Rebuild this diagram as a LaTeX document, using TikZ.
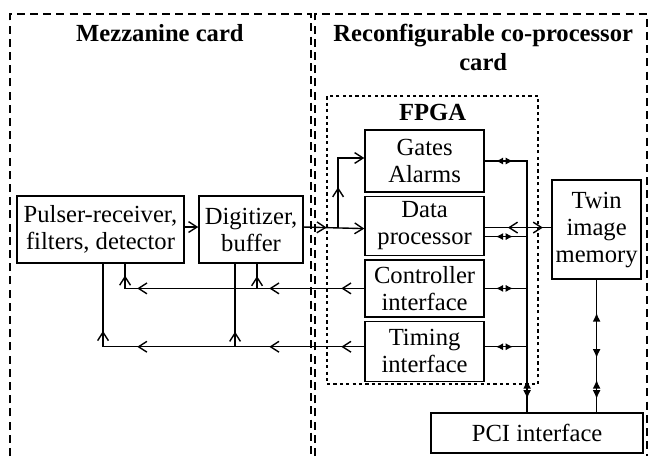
\documentclass[tikz,border=0pt]{standalone}
\usepackage{fontspec}
\setmainfont{Liberation Serif}
\usepackage{tikz}
\usetikzlibrary{arrows.meta,decorations.markings,positioning}

\begin{document}
\begin{tikzpicture}[blk/.style={draw,line width=.8pt,align=center,inner sep=1pt,font=\fontsize{12.3}{13.5}\selectfont},
  ttl/.style={align=center,font=\bfseries\fontsize{12.3}{14.5}\selectfont},
  card/.style={line width=.8pt,dash pattern=on 4pt off 2.6pt},
  chip/.style={draw,line width=.8pt,dash pattern=on 1.6pt off 1.6pt},
  wire/.style={line width=.7pt},
  >={Straight Barb[length=4.2pt,width=5.4pt]},
  headat/.style={postaction={decorate,decoration={markings,mark=at position #1 with {\arrow{>}}}}},
  headback/.style={postaction={decorate,decoration={markings,mark=at position #1 with {\arrowreversed{>}}}}},
  fillat/.style={postaction={decorate,decoration={markings,mark=at position #1 with {\arrow{Latex[length=4.4pt,width=4pt]}}}}},
  fillback/.style={postaction={decorate,decoration={markings,mark=at position #1 with {\arrowreversed{Latex[length=4.4pt,width=4pt]}}}}},
  smat/.style={postaction={decorate,decoration={markings,mark=at position #1 with {\arrow{Latex[length=3.6pt,width=3.6pt]}}}}},
  smback/.style={postaction={decorate,decoration={markings,mark=at position #1 with {\arrowreversed{Latex[length=3.6pt,width=3.6pt]}}}}},
  node distance=.05cm]
  \useasboundingbox (0,0) rectangle (11.42,8.013);

  % the two cards
  \draw[card] (0.176,0) -- (0.176,7.767) -- (5.465,7.767) -- (5.465,0);
  \draw[card] (5.535,0) -- (5.535,7.767) -- (11.37,7.767) -- (11.37,0);
  \node[ttl] (mezz) at (2.81,7.43) {Mezzanine card};
  \node[ttl] (reco) at (8.49,7.18) {Reconfigurable co-processor\\card};

  \node[blk,minimum width=2.935cm,minimum height=1.177cm] (pulser) at (1.766,3.98) {Pulser-receiver,\\filters, detector};
  \node[blk,minimum width=1.828cm,minimum height=1.177cm] (digit) at (4.411,3.98) {Digitizer,\\buffer};

  % FPGA
  \node[chip,minimum width=3.708cm,minimum height=5.061cm] (fpga) at (7.6,3.7955) {};
  \node[ttl] (fpgalbl) at (7.6,6.03) {FPGA};
  \node[blk,minimum width=2.091cm,minimum height=1.09cm] (gates) at (7.46,5.184) {Gates\\Alarms};
  \node[blk,minimum width=2.091cm,minimum height=1.037cm,below=of gates] (data) {Data\\processor};
  \node[blk,minimum width=2.091cm,minimum height=1cm,below=of data] (ctrl) {Controller\\interface};
  \node[blk,minimum width=2.091cm,minimum height=1.054cm,below=of ctrl] (timing) {Timing\\interface};

  \node[blk,minimum width=1.564cm,minimum height=1.74cm] (twin) at (10.482,3.98) {Twin\\image\\memory};
  \node[blk,minimum width=3.725cm,minimum height=.703cm] (pci) at (9.437,.404) {PCI interface};

  \coordinate (split) at (5.94,4.024);
  \coordinate (bus) at ([xshift=-.176cm]pci.north);
  \coordinate (ctap) at ([xshift=.105cm]digit.south);
  \coordinate (ttap) at ([xshift=-.281cm]digit.south);
  \coordinate (tline) at ([yshift=.08cm]timing.west);
  \coordinate (tright) at ([yshift=.08cm]timing.east);
  \coordinate (dup) at ([yshift=-.028cm]data.east);
  \coordinate (dlow) at ([yshift=-.186cm]data.east);

  % signal path
  \draw[wire,->] ([yshift=.044cm]pulser.east) -- ([yshift=.044cm]digit.west);
  \draw[wire,->,headat=.4cm] ([yshift=.044cm]digit.east) -- ([yshift=-.046cm]data.west);
  \draw[wire,->,headat=.7cm] (split) |- ([yshift=.053cm]gates.west);

  % control and timing back to the mezzanine
  \draw[wire,headat=.404cm,headat=1.669cm,headat=3.989cm,headat=4.43cm] (ctrl.west) -| ([xshift=.431cm]pulser.south);
  \draw[wire,headat=.5] (ctap |- ctrl.west) -- (ctap);
  \draw[wire,headat=.404cm,headat=1.669cm,headat=3.989cm,headat=4.868cm] (tline) -| ([xshift=.044cm]pulser.south);
  \draw[wire,headat=.264cm] (ttap |- tline) -- (ttap);

  % bus to PCI
  \draw[wire,smback=.193cm,smat=.492cm,fillback=4.587cm,fillat=4.92cm] (gates.east) -| (bus);
  \draw[wire,smback=.193cm,smat=.492cm] (dlow) -- (dlow -| bus);
  \draw[wire,smback=.193cm,smat=.492cm] (ctrl.east) -- (ctrl.east -| bus);
  \draw[wire,smback=.193cm,smat=.492cm] (tright) -- (tright -| bus);
  \draw[wire,headback=.404cm,headat=1.019cm] (dup) -- (dup -| twin.west);
  \draw[wire,fillback=.58cm,fillat=1.371cm,fillback=1.757cm,fillat=2.091cm] (twin.south) -- (twin.south |- pci.north);
\end{tikzpicture}
\end{document}
